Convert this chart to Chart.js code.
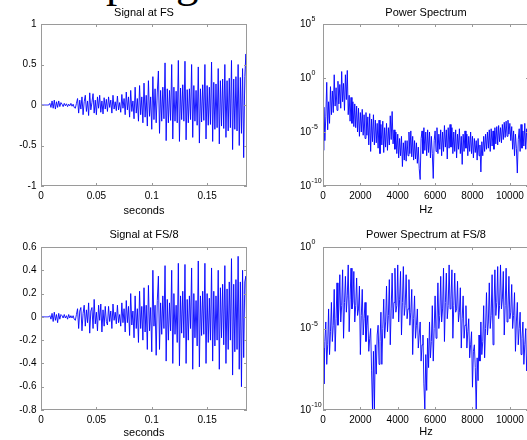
<!DOCTYPE html>
<html>
<head>
<meta charset="utf-8">
<script src="https://cdn.jsdelivr.net/npm/chart.js"></script>
<style>
  html, body { margin: 0; padding: 0; background: #fff; }
  body { width: 527px; height: 440px; overflow: hidden; position: relative; }
  canvas { position: absolute; }
  #slide-title {
    position: absolute; left: 26px; top: -40px;
    font: 45px/1 "Liberation Serif", serif; color: #000; white-space: nowrap;
  }
</style>
</head>
<body>
<div id="slide-title">Sampling</div>
<canvas id="sigFs" width="263" height="220" style="left:0;top:0"></canvas>
<canvas id="specFs" width="270" height="220" style="left:263px;top:0"></canvas>
<canvas id="sigFs8" width="263" height="220" style="left:0;top:220px"></canvas>
<canvas id="specFs8" width="270" height="220" style="left:263px;top:220px"></canvas>
<script>
const SIGNAL_DT = 0.001;   // seconds between plotted samples
const SPECTRUM_DF = 50;    // Hz between plotted bins

// signal at FS, amplitude
const signalFs = [
  0, 0, 0, 0, 0, 0, 0, 0, 0.02, -0.03, 0.05, -0.04, 0.06, -0.05, 0.04, -0.03, 0.05, -0.02, 0.03,
  0.01, -0.02, 0.02, -0.01, 0.015, -0.02, 0.01, -0.01, 0.02, -0.015, 0.01,
  -0.03, -0.04, 0.02,
  0.08, -0.1, 0.06, -0.05, 0.1, -0.12, 0.04, 0.12, -0.08, 0.05, -0.13, 0.15, -0.06, 0.03,
  0.14, -0.1, 0.06, -0.12, 0.1, -0.04, 0.12, -0.09, 0.05, -0.11, 0.09, -0.05, 0.07,
  -0.08, 0.1, -0.03, 0.06, -0.1, 0.12, -0.05, 0.04, -0.07, 0.11, -0.06, 0.03, -0.09, 0.13, -0.04, 0.08,
  -0.12, 0.16, -0.06, 0.1, -0.15, 0.18, -0.08, 0.05, -0.17, 0.22, -0.1, 0.08, -0.2, 0.24, -0.12,
  0.1, -0.22, 0.27, -0.15, 0.12, -0.26, 0.3, -0.14, 0.1, -0.3,
  0.35, -0.18, 0.2, -0.22, 0.16, 0.42, -0.35, 0.18, -0.2, 0.22, -0.17, 0.52,
  -0.44, 0.2, -0.22, 0.18, -0.19, 0.5, -0.42, 0.22, -0.2, 0.17, -0.22, 0.55,
  -0.45, 0.21, -0.18, 0.25, -0.2, 0.54, -0.43, 0.19, -0.22, 0.2, -0.18, 0.5,
  -0.4, 0.24, -0.2, 0.18, -0.25, 0.47, -0.47, 0.2, -0.21, 0.25, -0.19, 0.5,
  -0.42, 0.24, -0.25, 0.22, -0.24, 0.53, -0.45, 0.28, -0.3, 0.26, -0.28, 0.45,
  -0.48, 0.3, -0.26, 0.32, -0.29, 0.5, -0.4, 0.3, -0.32, 0.33, -0.28, 0.55,
  -0.55, 0.32, -0.3, 0.35, -0.32, 0.5, -0.5, 0.34, -0.35, 0.45, -0.65, 0.35,
  0.63, -0.3
];

// signal at FS/8, amplitude
const signalFs8 = [
  0, 0, 0, 0, 0, 0, 0, 0, 0.01, -0.02, 0.03, -0.04, 0.04, -0.03, 0.02, -0.05, 0.03, -0.02, 0.02,
  0.01, -0.01, 0.02, -0.01, 0.01, -0.02, 0.02, -0.01, 0.01, -0.01, 0.01,
  -0.02, -0.03, 0.02,
  0.07, -0.1, 0.05, 0.08, -0.12, 0.03, 0.1, -0.08, 0.06, -0.05, 0.12, -0.14, 0.05, 0.08,
  -0.1, 0.15, -0.06, 0.04, -0.12, 0.1, -0.03, 0.11, -0.13, 0.06, -0.08, 0.09, -0.04,
  -0.07, 0.09, -0.04, 0.05, -0.1, 0.11, -0.03, 0.04, -0.06, 0.1, -0.05, 0.02, -0.08, 0.12, -0.05, 0.07,
  -0.13, 0.14, -0.05, 0.09, -0.16, 0.2, -0.07, 0.05, -0.18, 0.18, -0.1, 0.07, -0.22, 0.22, -0.1,
  0.09, -0.2, 0.25, -0.13, 0.1, -0.28, 0.27, -0.12, 0.08, -0.3,
  0.4, -0.08, 0.1, -0.33, 0.14, 0.35, -0.28, 0.12, -0.15, 0.18, -0.1, 0.44, -0.38, 0.15, -0.2,
  0.12, -0.12, 0.4, -0.4, 0.2, -0.15, 0.1, -0.22, 0.46, -0.42, 0.18, -0.14, 0.22, -0.18, 0.45,
  -0.4, 0.15, -0.2, 0.18, -0.1, 0.42, -0.45, 0.2, -0.18, 0.14, -0.25, 0.48, -0.43, 0.18, -0.16,
  0.22, -0.15, 0.46, -0.4, 0.2, -0.22, 0.16, -0.2, 0.42, -0.38, 0.22, -0.25, 0.18, -0.2, 0.4,
  -0.45, 0.25, -0.18, 0.28, -0.24, 0.44, -0.4, 0.24, -0.28, 0.3, -0.2, 0.5, -0.5, 0.28, -0.3,
  0.32, -0.28, 0.52, -0.45, 0.3, -0.6, 0.4, -0.35, 0.3, 0.35, -0.3
];

// power spectrum at FS, log10 of power, one value per 50 Hz
const spectrumFsExp = [
  -6.7, -2.7, -5.8, -3.6, -0.4, -4.8, -2.2, -4.2, -0.8, -3.4,
  -1.2, -3.2, 0.3, -2.6, -0.9, -3, -0.3, -2.4, -0.6, -2.8,
  0.6, -2.2, -0.5, -3, 0.3, -2, 0.7, -3.4, -1.6, -4,
  -1.8, -4.2, -2.2, -4.5, -2.4, -4.6, -2.6, -5, -2.8, -5.4,
  -3.2, -5, -2.9, -5.3, -3.4, -5.6, -3.2, -5.3, -3.6, -6.2,
  -3.3, -6.8, -3.8, -5.9, -3.4, -6.2, -3.9, -6, -4.2, -6.5,
  -3.9, -7, -4.3, -6.2, -4, -6.9, -4.6, -6.4, -4.2, -6.7,
  -4.6, -6.2, -3.5, -5.7, -3.1, -6.1, -4.8, -6.6, -5, -7,
  -5.2, -7.4, -5.6, -7.2, -5.4, -8.2, -6, -7.6, -5.8, -7.7,
  -5.8, -7.2, -5, -7, -4.9, -7.3, -5.4, -7.6, -5.8, -7.5,
  -6, -7.9, -6.4, -8.4, -9.4, -5.6, -4.9, -7, -4.6, -6.7,
  -5, -7.2, -4.8, -6.9, -5, -7.4, -5.4, -7, -9.3, -5.8,
  -4.9, -6.8, -4.6, -7, -5.2, -6.6, -4.8, -7.2, -5, -6.8,
  -4.4, -6.4, -4.8, -7.5, -4.6, -6.5, -4.3, -6.4, -4.6, -7,
  -5, -6.8, -4.8, -7.4, -5.2, -6.6, -4.7, -7, -5.4, -8,
  -5.2, -6.8, -4.9, -6.5, -5.2, -7.2, -5.4, -6.8, -5, -7,
  -5.4, -7.4, -5.6, -6.9, -5.8, -7.6, -5.6, -7.2, -6.2, -8.7,
  -5.9, -7.2, -5.4, -6.8, -5.2, -6.6, -5, -6.5, -4.8, -6.8,
  -4.7, -6.3, -4.9, -6.6, -4.6, -6.1, -4.5, -6.2, -4.4, -5.9,
  -4.6, -6, -4.3, -5.7, -4.1, -5.5, -4, -5.4, -3.9, -5.2,
  -4.2, -5.8, -4.5, -6.6, -4.9, -7.2, -5.2, -6.5, -8.8, -5.7,
  -4.7, -6.8, -4.3, -6.5, -4.9, -6.3, -4.2, -6.6, -4.7, -6.4,
  -5.3
];

// power spectrum at FS/8, log10 of power, one value per 50 Hz
const spectrumFs8Exp = [
  -6.2, -8.4, -5.8, -4.6, -7.2, -6, -3.8, -6.6, -5.2, -3.4, -5.8, -4.8,
  -2.6, -6.4, -4.4, -2.2, -4.8, -3.8, -1.7, -4.6, -3.6, -1.4, -5.6, -3.4,
  -1.8, -4, -3, -1.1, -5.2, -3.2, -1.3, -3.8, -3.4, -1.5, -4.6, -3.6,
  -1.9, -4.2, -3.8, -2.4, -6.6, -4.2, -2.6, -5.4, -4.4, -3.4, -5.8, -4.8,
  -4.2, -6.4, -5.6, -5, -7.6, -10, -6.4, -10,
  -6, -7.8, -5.4, -4.8, -7.2, -5.8, -4, -7.2, -5, -3.2, -5.6, -4.6,
  -2.4, -5.2, -4.2, -2, -6, -3.8, -1.6, -4.4, -3.4, -1.3, -4, -3.6,
  -1.1, -4.6, -3.2, -1.5, -5.4, -3.4, -1.2, -4.2, -3.6, -1.7, -4.4, -3.8,
  -2, -4.8, -4, -2.6, -6.6, -4.4, -3, -5.6, -4.8, -3.8, -6.2, -5.4,
  -4.6, -7, -6, -5.4, -8.4, -10, -6.6,
  -8.8, -5.6, -7.4, -4.6, -6.8, -5.8, -3.6, -7, -5, -3, -5.6, -4.6,
  -2.2, -5, -4.2, -1.8, -4.6, -3.8, -1.3, -5.8, -3.4, -1.6, -4.4, -3.6,
  -1.1, -3.8, -3.2, -1.4, -5.6, -3.6, -1.6, -4, -3.8, -2.1, -4.6, -4,
  -2.5, -6.2, -4.4, -3, -5.6, -4.8, -3.6, -6.2, -5.2, -4.4, -6.8, -6,
  -5.2, -8.6, -6.4, -6, -7.4, -10, -6.8,
  -8.2, -5.4, -7, -4.6, -6.6, -5.8, -3.6, -6.8, -5, -2.8, -5.4, -4.6,
  -2.2, -5, -4.2, -1.7, -6, -3.8, -1.4, -4.2, -3.4, -1.2, -4.4, -3.6,
  -1.1, -3.8, -3.2, -1.5, -5.4, -3.6, -1.3, -4.6, -3.8, -1.8, -4.4, -4,
  -2.3, -5, -4.2, -2.8, -6.4, -4.6, -3.4, -6, -5, -4, -6.6, -5.6,
  -4.6, -7.2, -6, -5, -7.6, -6.4, -5.6
];

// ticks and their labels (log axes: base label plus exponent)
const timeTicks = [0, 0.05, 0.1, 0.15];
const timeLabels = ['0', '0.05', '0.1', '0.15'];
const freqTicks = [0, 2000, 4000, 6000, 8000, 10000];
const freqLabels = ['0', '2000', '4000', '6000', '8000', '10000'];
const fsAmpTicks = [-1, -0.5, 0, 0.5, 1];
const fsAmpLabels = ['-1', '-0.5', '0', '0.5', '1'];
const fs8AmpTicks = [-0.8, -0.6, -0.4, -0.2, 0, 0.2, 0.4, 0.6];
const fs8AmpLabels = ['-0.8', '-0.6', '-0.4', '-0.2', '0', '0.2', '0.4', '0.6'];
const fsPowTicks = [1e-10, 1e-5, 1, 1e5];
const fsPowExponents = ['-10', '-5', '0', '5'];
const fs8PowTicks = [1e-10, 1e-5, 1];
const fs8PowExponents = ['-10', '-5', '0'];

const FONT = '"Liberation Sans", Arial, Helvetica, sans-serif';
const BLUE = '#0000ff';

// box around the plot area and small inward ticks, like the original figure
const boxPlugin = {
  id: 'box',
  afterDatasetsDraw(chart) {
    const { ctx, chartArea: a, scales } = chart;
    ctx.save();
    ctx.strokeStyle = '#9a9a9a';
    ctx.lineWidth = 1;
    ctx.strokeRect(a.left + 0.5, a.top + 0.5, a.right - a.left - 1, a.bottom - a.top - 1);
    ctx.beginPath();
    scales.x.ticks.forEach((t) => {
      const px = Math.round(scales.x.getPixelForValue(t.value)) + 0.5;
      ctx.moveTo(px, a.bottom); ctx.lineTo(px, a.bottom - 3);
      ctx.moveTo(px, a.top); ctx.lineTo(px, a.top + 3);
    });
    scales.y.ticks.forEach((t) => {
      const py = Math.round(scales.y.getPixelForValue(t.value)) + 0.5;
      ctx.moveTo(a.left, py); ctx.lineTo(a.left + 3, py);
      ctx.moveTo(a.right, py); ctx.lineTo(a.right - 3, py);
    });
    ctx.stroke();
    ctx.restore();
  }
};

// raised exponent after the "10" tick labels of the log axes
const exponentPlugin = {
  id: 'exponents',
  afterDraw(chart, args, opts) {
    if (!opts.labels) return;
    const { ctx } = chart;
    const y = chart.scales.y;
    ctx.save();
    ctx.font = '10px ' + FONT;
    const baseW = ctx.measureText('10').width;
    ctx.font = '7px ' + FONT;
    ctx.fillStyle = '#000';
    ctx.textAlign = 'left';
    ctx.textBaseline = 'middle';
    y.ticks.forEach((t, i) => {
      ctx.fillText(opts.labels[i], y.left + baseW + 0.5, y.getPixelForValue(t.value) - 4.5);
    });
    ctx.restore();
  }
};

function makeChart(id, o) {
  new Chart(document.getElementById(id), {
    type: 'line',
    data: {
      datasets: [{
        data: o.points,
        borderColor: BLUE,
        borderWidth: 0.9,
        pointRadius: 0,
        tension: 0,
        fill: false
      }]
    },
    options: {
      responsive: false,
      animation: false,
      events: [],
      layout: { padding: { left: o.padLeft, right: o.padRight, top: 0, bottom: 0 } },
      plugins: {
        legend: { display: false },
        tooltip: { enabled: false },
        exponents: { labels: o.yExponents || null },
        title: {
          display: true,
          text: o.title,
          fullSize: false,
          color: '#000',
          font: { family: FONT, size: 11, weight: 'normal' },
          padding: o.titlePad
        }
      },
      scales: {
        x: {
          type: 'linear',
          min: 0,
          max: o.xMax,
          grid: { display: false, drawTicks: false },
          border: { display: false },
          afterBuildTicks: (s) => { s.ticks = o.xTicks.map((v) => ({ value: v })); },
          afterFit: (s) => { s.height = o.xHeight; },
          ticks: {
            callback: (v, i) => o.xLabels[i],
            color: '#000',
            font: { family: FONT, size: 10 },
            padding: 4.5,
            maxRotation: 0,
            autoSkip: false
          },
          title: {
            display: true,
            text: o.xTitle,
            color: '#000',
            font: { family: FONT, size: 11 },
            padding: { top: 0, bottom: o.xTitleBottom }
          }
        },
        y: {
          type: o.yType,
          min: o.yMin,
          max: o.yMax,
          grid: { display: false, drawTicks: false },
          border: { display: false },
          afterBuildTicks: (s) => { s.ticks = o.yTicks.map((v) => ({ value: v })); },
          afterFit: (s) => { s.width = o.yWidth; },
          ticks: {
            callback: (v, i) => (o.yLabels ? o.yLabels[i] : '10'),
            color: '#000',
            font: { family: FONT, size: 10 },
            padding: 4.5,
            crossAlign: o.crossAlign,
            autoSkip: false
          }
        }
      }
    },
    plugins: [boxPlugin, exponentPlugin]
  });
}

const toSignal = (arr) => arr.map((v, i) => ({ x: i * SIGNAL_DT, y: v }));
const toSpectrum = (arr) => arr.map((e, k) => ({ x: k * SPECTRUM_DF, y: Math.pow(10, e) }));

makeChart('sigFs', {
  points: toSignal(signalFs), title: 'Signal at FS', titlePad: { top: 6.4, bottom: 4.4 },
  padLeft: 0, padRight: 16, yWidth: 41, xHeight: 34, xTitleBottom: 2.9,
  xMax: 0.186, xTicks: timeTicks, xLabels: timeLabels, xTitle: 'seconds',
  yType: 'linear', yMin: -1, yMax: 1, yTicks: fsAmpTicks, yLabels: fsAmpLabels, crossAlign: 'near'
});

makeChart('specFs', {
  points: toSpectrum(spectrumFsExp), title: 'Power Spectrum', titlePad: { top: 6.4, bottom: 4.4 },
  padLeft: 37, padRight: 4, yWidth: 23, xHeight: 34, xTitleBottom: 3.9,
  xMax: 11025, xTicks: freqTicks, xLabels: freqLabels, xTitle: 'Hz',
  yType: 'logarithmic', yMin: 1e-10, yMax: 1e5, yTicks: fsPowTicks, yExponents: fsPowExponents, crossAlign: 'far'
});

makeChart('sigFs8', {
  points: toSignal(signalFs8), title: 'Signal at FS/8', titlePad: { top: 8.4, bottom: 5.4 },
  padLeft: 0, padRight: 16, yWidth: 41, xHeight: 30, xTitleBottom: 0.9,
  xMax: 0.186, xTicks: timeTicks, xLabels: timeLabels, xTitle: 'seconds',
  yType: 'linear', yMin: -0.8, yMax: 0.6, yTicks: fs8AmpTicks, yLabels: fs8AmpLabels, crossAlign: 'near'
});

makeChart('specFs8', {
  points: toSpectrum(spectrumFs8Exp), title: 'Power Spectrum at FS/8', titlePad: { top: 8.4, bottom: 5.4 },
  padLeft: 37, padRight: 4, yWidth: 23, xHeight: 30, xTitleBottom: 1.4,
  xMax: 11025, xTicks: freqTicks, xLabels: freqLabels, xTitle: 'Hz',
  yType: 'logarithmic', yMin: 1e-10, yMax: 1, yTicks: fs8PowTicks, yExponents: fs8PowExponents, crossAlign: 'far'
});
</script>
</body>
</html>
